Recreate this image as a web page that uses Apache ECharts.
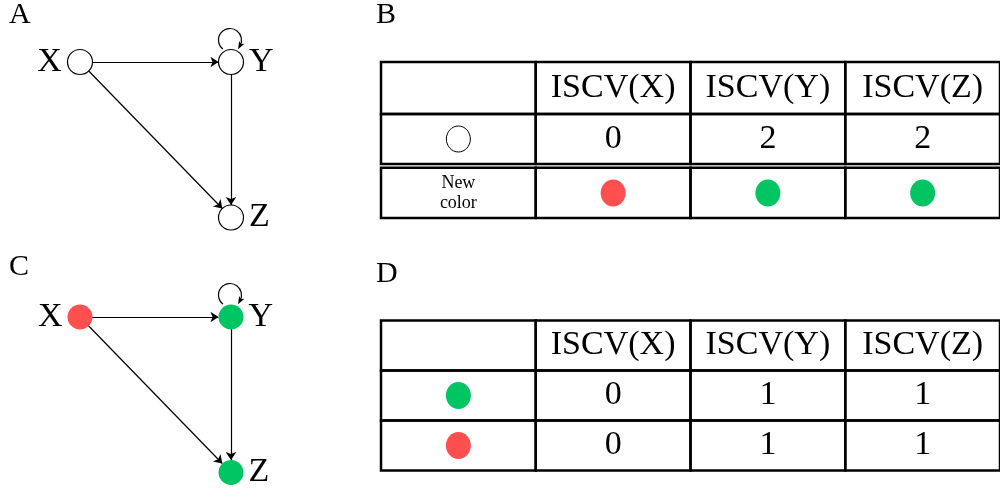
<!DOCTYPE html>
<html lang="en">
<head>
<meta charset="UTF-8" />
<title>ISCV colouring</title>
<style>
  html, body { margin: 0; padding: 0; background: #fff; }
  #chart { width: 1000px; height: 492px; }
</style>
<script src="https://cdn.jsdelivr.net/npm/echarts@6/dist/echarts.min.js"></script>
</head>
<body>
<div id="chart"></div>
<script>
// graph: three nodes on a unit layout (x to the right, y downwards)
const nodeNames = ["X", "Y", "Z"];
const nodeLayout = [[0, 0], [1, 0], [1, 1]];
const labelSide = ["left", "right", "right"];
const edges = [[0, 1], [0, 2], [1, 2]];
const selfLoops = [1];
const newColours = ["red", "green", "green"];

// tables
const headers = ["", "ISCV(X)", "ISCV(Y)", "ISCV(Z)"];
const iscvBefore = [0, 2, 2];
const newColourLabel = "New\ncolor";
const rowKeysAfter = ["green", "red"];
const iscvAfter = [[0, 1, 1], [0, 1, 1]];
const panelLetters = ["A", "B", "C", "D"];

const palette = { red: "#ff4f4f", green: "#00c562" };
const serif = '"Liberation Serif", "DejaVu Serif", serif';

// build table cells
const cellsB = [];
headers.forEach((h, c) => cellsB.push({ c: c, r: 0, kind: "text", text: h }));
cellsB.push({ c: 0, r: 1, kind: "ring" });
iscvBefore.forEach((v, i) => cellsB.push({ c: i + 1, r: 1, kind: "text", text: String(v) }));
cellsB.push({ c: 0, r: 2, kind: "small", text: newColourLabel });
newColours.forEach((k, i) => cellsB.push({ c: i + 1, r: 2, kind: "dot", colour: k }));

const cellsD = [];
headers.forEach((h, c) => cellsD.push({ c: c, r: 0, kind: "text", text: h }));
rowKeysAfter.forEach((k, r) => {
  cellsD.push({ c: 0, r: r + 1, kind: "dot", colour: k });
  iscvAfter[r].forEach((v, i) => cellsD.push({ c: i + 1, r: r + 1, kind: "text", text: String(v) }));
});

function tableRenderer(cells, doubleAfter) {
  return function (params, api) {
    const cell = cells[params.dataIndex];
    const p = api.coord([cell.c, cell.r]);
    const s = api.size([1, 1]);
    let top = p[1] - s[1] / 2;
    let bottom = p[1] + s[1] / 2;
    if (cell.r === doubleAfter) bottom -= 2;
    if (cell.r === doubleAfter + 1) top += 1.8;
    const cx = p[0];
    const cy = (top + bottom) / 2;
    const children = [{
      type: "rect",
      shape: { x: cx - s[0] / 2, y: top, width: s[0], height: bottom - top },
      style: { fill: null, stroke: "#000", lineWidth: 2.5 }
    }];
    if (cell.kind === "text") {
      children.push({
        type: "text",
        style: { text: cell.text, x: cx, y: cy, align: "center", verticalAlign: "middle",
                 fontSize: 34, fontFamily: serif, fill: "#000" }
      });
    } else if (cell.kind === "small") {
      children.push({
        type: "text",
        style: { text: cell.text, x: cx, y: cy, align: "center", verticalAlign: "middle",
                 fontSize: 18, lineHeight: 20, fontFamily: serif, fill: "#000" }
      });
    } else if (cell.kind === "ring") {
      children.push({
        type: "ellipse",
        shape: { cx: cx, cy: cy, rx: 12, ry: 13 },
        style: { fill: "#fff", stroke: "#000", lineWidth: 1 }
      });
    } else if (cell.kind === "dot") {
      children.push({
        type: "ellipse",
        shape: { cx: cx, cy: cy, rx: 12.5, ry: 13.5 },
        style: { fill: palette[cell.colour] }
      });
    }
    return { type: "group", children: children };
  };
}

function graphSeries(idx, coloured) {
  return {
    type: "graph",
    coordinateSystem: "cartesian2d",
    xAxisIndex: idx,
    yAxisIndex: idx,
    symbol: "circle",
    symbolSize: 25,
    edgeSymbol: ["none", "arrow"],
    edgeSymbolSize: 8,
    data: nodeNames.map((n, i) => ({
      name: n,
      value: nodeLayout[i],
      itemStyle: coloured
        ? { color: palette[newColours[i]], borderWidth: 0 }
        : { color: "#fff", borderColor: "#000", borderWidth: 1.2 },
      label: { show: true, position: labelSide[i], distance: 5, formatter: n }
    })),
    links: edges.map(e => ({ source: e[0], target: e[1] })),
    lineStyle: { color: "#000", width: 1.2, opacity: 1, curveness: 0 },
    label: { fontSize: 34, fontFamily: serif, color: "#000" },
    emphasis: { disabled: true },
    silent: true,
    z: 3
  };
}

function loopSeries(idx) {
  return {
    type: "custom",
    coordinateSystem: "cartesian2d",
    xAxisIndex: idx,
    yAxisIndex: idx,
    data: selfLoops.map(i => nodeLayout[i]),
    silent: true,
    z: 4,
    renderItem: function (params, api) {
      const p = api.coord([api.value(0), api.value(1)]);
      const cx = p[0] - 1, cy = p[1] - 22, r = 11.5;
      const a0 = 128 * Math.PI / 180, a1 = 28 * Math.PI / 180;
      const ex = cx + r * Math.cos(a1), ey = cy + r * Math.sin(a1);
      const tx = -Math.sin(a1), ty = Math.cos(a1);
      const nx = -ty, ny = tx;
      const tip = [ex + tx * 4.5, ey + ty * 4.5];
      const back = [ex - tx * 3.5, ey - ty * 3.5];
      return {
        type: "group",
        children: [
          { type: "arc", shape: { cx: cx, cy: cy, r: r, startAngle: a0, endAngle: a1, clockwise: true },
            style: { fill: null, stroke: "#000", lineWidth: 1.2 } },
          { type: "polygon",
            shape: { points: [tip, [back[0] + nx * 3, back[1] + ny * 3],
                              [ex - tx * 1.5, ey - ty * 1.5], [back[0] - nx * 3, back[1] - ny * 3]] },
            style: { fill: "#000" } }
        ]
      };
    }
  };
}

const grids = [
  { left: 80, top: 62, width: 151, height: 155.5 },
  { left: 381, top: 62, width: 622.5, height: 156 },
  { left: 80, top: 317, width: 151, height: 155.5 },
  { left: 381, top: 320.5, width: 622.5, height: 150 }
];

const xAxes = [
  { gridIndex: 0, type: "value", min: 0, max: 1, show: false },
  { gridIndex: 1, type: "category", data: headers, show: false },
  { gridIndex: 2, type: "value", min: 0, max: 1, show: false },
  { gridIndex: 3, type: "category", data: headers, show: false }
];
const yAxes = [
  { gridIndex: 0, type: "value", min: 0, max: 1, inverse: true, show: false },
  { gridIndex: 1, type: "category", data: ["h", "r1", "r2"], inverse: true, show: false },
  { gridIndex: 2, type: "value", min: 0, max: 1, inverse: true, show: false },
  { gridIndex: 3, type: "category", data: ["h", "r1", "r2"], inverse: true, show: false }
];

const letterPos = [
  { left: 9, top: 0 },
  { left: 376, top: 0 },
  { left: 9, top: 252 },
  { left: 376, top: 259 }
];

const chart = echarts.init(document.getElementById("chart"), null, { renderer: "canvas" });
chart.setOption({
  backgroundColor: "#fff",
  animation: false,
  title: panelLetters.map((t, i) => ({
    text: t,
    left: letterPos[i].left,
    top: letterPos[i].top,
    padding: 0,
    textStyle: { fontSize: 30, fontWeight: "normal", fontFamily: serif, color: "#000" }
  })),
  grid: grids,
  xAxis: xAxes,
  yAxis: yAxes,
  series: [
    graphSeries(0, false),
    loopSeries(0),
    { type: "custom", xAxisIndex: 1, yAxisIndex: 1, silent: true,
      data: cellsB.map(c => [c.c, c.r]), renderItem: tableRenderer(cellsB, 1) },
    graphSeries(2, true),
    loopSeries(2),
    { type: "custom", xAxisIndex: 3, yAxisIndex: 3, silent: true,
      data: cellsD.map(c => [c.c, c.r]), renderItem: tableRenderer(cellsD, -5) }
  ]
});
</script>
</body>
</html>
